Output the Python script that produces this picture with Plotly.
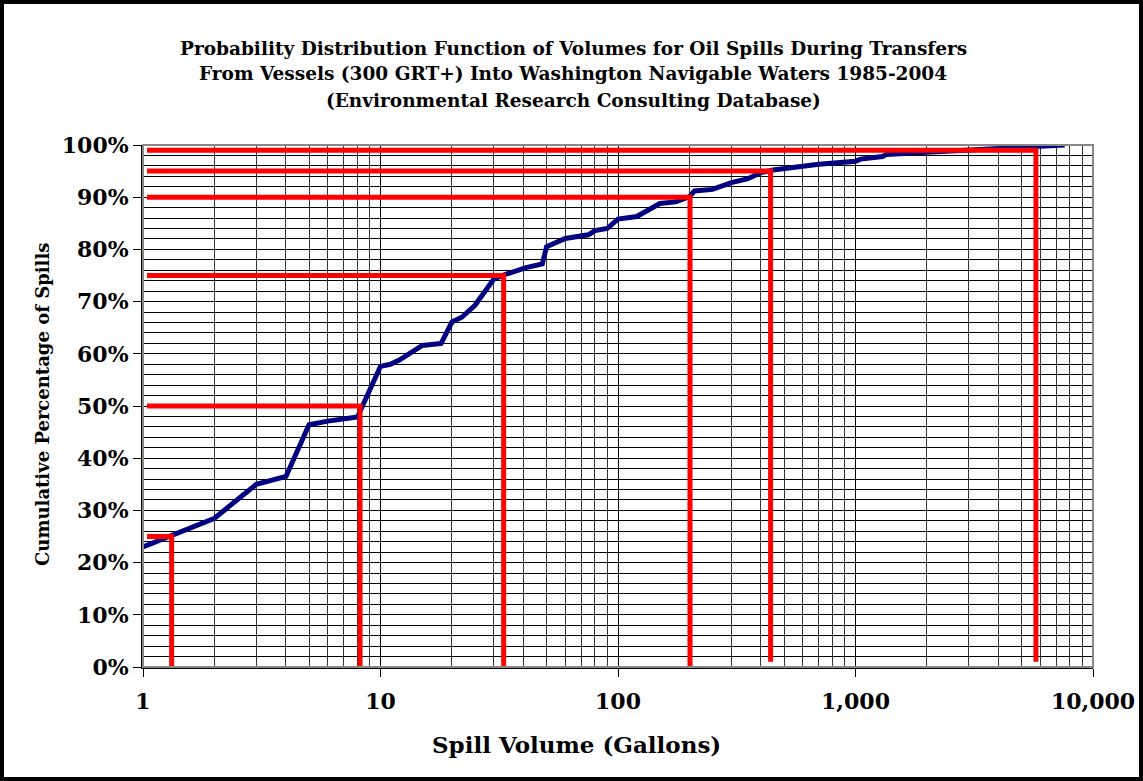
import plotly.graph_objects as go

# ---- data ----
volumes = [1, 2, 3, 4, 5, 6, 8, 10, 11, 12, 15, 18, 20, 22, 25, 30, 33, 41, 48, 50,
           60, 75, 80, 90, 100, 120, 150, 175, 200, 210, 250, 300, 350, 400, 450,
           530, 620, 700, 1000, 1050, 1300, 1350, 2000, 4000, 7600]
cum_pct = [0.230, 0.285, 0.350, 0.365, 0.464, 0.471, 0.479, 0.576, 0.580, 0.588,
           0.616, 0.620, 0.661, 0.670, 0.693, 0.743, 0.751, 0.765, 0.772, 0.805,
           0.821, 0.828, 0.836, 0.840, 0.858, 0.863, 0.888, 0.891, 0.901, 0.912,
           0.915, 0.928, 0.935, 0.947, 0.952, 0.956, 0.958, 0.963, 0.969, 0.973,
           0.978, 0.982, 0.986, 0.993, 1.000]

# percentile reference markers
ref_pct = [0.25, 0.50, 0.75, 0.90, 0.95, 0.99]
ref_vol = [1.32, 8.2, 33, 201, 439, 5750]
ref_bottom = [0.0, 0.0, 0.0, 0.0, 0.01, 0.01]
ref_start = 1.04

x_major = [1, 10, 100, 1000, 10000]
x_major_text = ["1", "10", "100", "1,000", "10,000"]
x_minor = [m * 10 ** d for d in range(4) for m in range(2, 10)]

title_lines = [
    "Probability Distribution Function of Volumes for Oil Spills During Transfers",
    "From Vessels (300 GRT+) Into Washington Navigable Waters 1985-2004",
    "(Environmental Research Consulting Database)",
]
x_title = "Spill Volume (Gallons)"
y_title = "Cumulative Percentage of Spills"

FONT = "DejaVu Serif"

fig = go.Figure()
fig.add_trace(go.Scatter(x=volumes, y=cum_pct, mode="lines",
                         line=dict(color="#000080", width=5), showlegend=False,
                         hoverinfo="skip"))
for p, v, b in zip(ref_pct, ref_vol, ref_bottom):
    fig.add_trace(go.Scatter(x=[ref_start, v, v], y=[p, p, b], mode="lines",
                             line=dict(color="#FF0000", width=5), showlegend=False,
                             hoverinfo="skip"))

L, R, T, B = 143, 50, 145, 114
W, H = 1143, 781
pw, ph = W - L - R, H - T - B

def px_x(px):
    return (px - L) / pw

def px_y(py):
    return (H - B - py) / ph

annotations = []
for yy, line in zip([48, 74, 101], title_lines):
    annotations.append(dict(text="<b>%s</b>" % line, xref="paper", yref="paper",
                            x=px_x(573), y=px_y(yy), xanchor="center", yanchor="middle",
                            showarrow=False, font=dict(family=FONT, size=18.5, color="black")))
annotations.append(dict(text="<b>%s</b>" % x_title, xref="paper", yref="paper",
                        x=px_x(576), y=px_y(744), xanchor="center", yanchor="middle",
                        showarrow=False, font=dict(family=FONT, size=23, color="black")))
annotations.append(dict(text="<b>%s</b>" % y_title, xref="paper", yref="paper",
                        x=px_x(42), y=px_y(405), xanchor="center", yanchor="middle",
                        textangle=-90, showarrow=False,
                        font=dict(family=FONT, size=18, color="black")))

shapes = [
    # plot-area border
    dict(type="rect", xref="paper", yref="paper", x0=0, y0=0, x1=1, y1=1,
         line=dict(color="#888888", width=2), layer="above"),
    # outer frame
    dict(type="rect", xref="paper", yref="paper",
         x0=px_x(2), x1=px_x(W - 2), y0=px_y(H - 2), y1=px_y(2),
         line=dict(color="black", width=4)),
]

fig.update_layout(
    width=W, height=H,
    margin=dict(l=L, r=R, t=T, b=B),
    paper_bgcolor="white", plot_bgcolor="white",
    annotations=annotations, shapes=shapes,
    font=dict(family=FONT, color="black"),
)
fig.update_xaxes(
    type="log", range=[0, 4], automargin=False,
    tickvals=x_major, ticktext=["<b>%s</b>" % t for t in x_major_text],
    tickfont=dict(family=FONT, size=22, color="black"),
    ticks="outside", ticklen=8, tickcolor="black", tickwidth=1,
    ticklabelstandoff=6,
    showgrid=True, gridcolor="black", gridwidth=1,
    showline=True, linecolor="black", linewidth=2,
    minor=dict(tickvals=x_minor, showgrid=True, gridcolor="#333333", gridwidth=1, ticks=""),
    zeroline=False,
)
fig.update_yaxes(
    range=[0, 1], dtick=0.1, tickformat=".0%", automargin=False,
    tickprefix="<b>", ticksuffix="</b>",
    tickfont=dict(family=FONT, size=22, color="black"),
    ticks="outside", ticklen=8, tickcolor="black", tickwidth=1,
    showgrid=True, gridcolor="black", gridwidth=1,
    showline=True, linecolor="black", linewidth=2,
    minor=dict(dtick=0.02, showgrid=True, gridcolor="black", gridwidth=1, ticks=""),
    zeroline=False,
)

fig.write_html("out.html", config={"displayModeBar": False},
               post_script="document.body.style.margin='0';")
